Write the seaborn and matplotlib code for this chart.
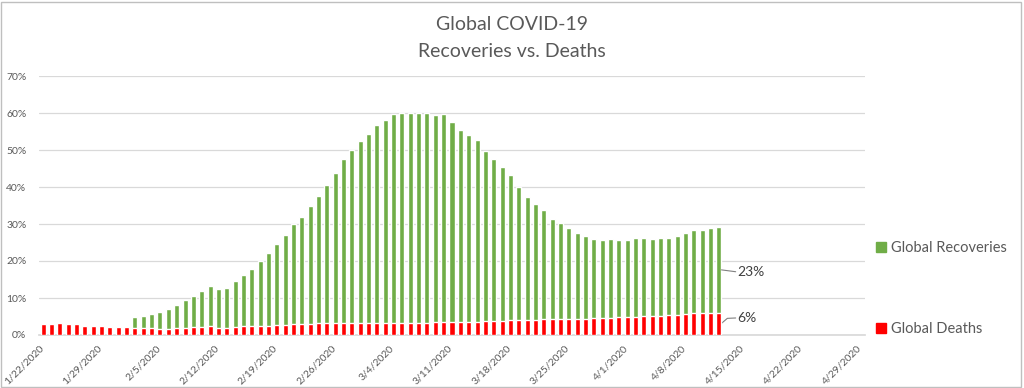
import matplotlib as mpl
mpl.use('Agg')

import numpy as np
import pandas as pd
import seaborn as sns
import matplotlib.pyplot as plt
from matplotlib.patches import Patch, Rectangle

# daily values, 1/22/2020 .. 4/12/2020 (percent)
deaths = [3.0, 3.0, 3.2, 2.9, 2.9, 2.3, 2.3, 2.3, 2.2, 2.2, 2.2,
          2.0, 2.0, 1.8, 1.7, 1.7, 1.9, 2.0, 2.1, 2.2, 2.3,
          2.0, 2.0, 2.2, 2.3, 2.3, 2.4, 2.5, 2.7, 2.8, 3.0,
          3.0, 3.1, 3.2, 3.2, 3.2, 3.2, 3.2, 3.2, 3.2, 3.2,
          3.2, 3.2, 3.2, 3.2, 3.3, 3.3, 3.4, 3.5, 3.5, 3.5,
          3.6, 3.6, 3.8, 3.8, 3.9, 4.0, 4.1, 4.1, 4.1, 4.2,
          4.2, 4.3, 4.3, 4.4, 4.4, 4.5, 4.5, 4.6, 4.8, 4.9,
          5.0, 5.2, 5.2, 5.2, 5.4, 5.5, 5.7, 5.9, 6.0, 6.0, 6.0]
recoveries = [0, 0, 0, 0, 0, 0, 0, 0, 0, 0, 0,
              3.0, 3.1, 4.0, 4.5, 5.3, 6.1, 7.4, 8.4, 9.6, 10.9,
              10.3, 10.7, 12.3, 13.9, 15.6, 17.5, 19.6, 21.8, 24.3, 27.0,
              29.0, 31.8, 34.5, 37.3, 40.5, 44.3, 46.8, 49.1, 51.2, 53.5,
              55.0, 56.5, 56.7, 56.7, 56.8, 56.8, 56.1, 56.1, 54.2, 52.0,
              50.4, 49.0, 46.0, 43.9, 41.5, 39.2, 35.9, 33.1, 31.2, 29.5,
              27.2, 26.0, 24.7, 23.3, 22.4, 21.5, 21.2, 21.3, 20.8, 20.9,
              21.1, 21.1, 20.7, 20.9, 20.9, 21.3, 22.0, 22.4, 22.3, 22.9, 23.2]
tick_labels = ['1/22/2020', '1/29/2020', '2/5/2020', '2/12/2020', '2/19/2020',
               '2/26/2020', '3/4/2020', '3/11/2020', '3/18/2020', '3/25/2020',
               '4/1/2020', '4/8/2020', '4/15/2020', '4/22/2020', '4/29/2020']
last_labels = ['23%', '6%']

green = '#70AD47'
red = '#FF0000'
grey = '#595959'

sns.set_theme(style='white')
plt.rcParams['font.family'] = ['Lato', 'DejaVu Sans']

df = pd.DataFrame({'day': np.arange(len(deaths)),
                   'deaths': deaths,
                   'recoveries': recoveries})
df['total'] = df['deaths'] + df['recoveries']

fig = plt.figure(figsize=(10.24, 3.88), dpi=100)
ax = fig.add_axes([39 / 1024, 1 - 335 / 388, (865 - 39) / 1024, (335 - 76) / 388])

sns.barplot(data=df, x='day', y='total', color=green, width=0.6,
            saturation=1, ax=ax, zorder=2)
sns.barplot(data=df, x='day', y='deaths', color=red, width=0.6,
            saturation=1, ax=ax, zorder=3)

ax.set_xlim(-0.5, 98.5)
ax.set_ylim(0, 70)
ax.set_xticks(np.arange(len(tick_labels)) * 7 - 0.5)
ax.set_xticklabels(tick_labels, rotation=45, ha='right', rotation_mode='anchor',
                   fontsize=7.5, color=grey)
ax.set_yticks(np.arange(0, 71, 10))
ax.set_yticklabels([f'{v}%' for v in range(0, 71, 10)], fontsize=7.5, color=grey)
ax.set_xlabel('')
ax.set_ylabel('')
ax.yaxis.grid(True, color='#D9D9D9', lw=0.9, zorder=0)
ax.set_axisbelow(True)
for s in ['top', 'right', 'left']:
    ax.spines[s].set_visible(False)
ax.spines['bottom'].set_color('#D9D9D9')
ax.tick_params(axis='x', length=4, color='#D9D9D9', pad=2)
ax.tick_params(axis='y', length=0, pad=9)

# labels at the last bar
n = len(deaths) - 1
ax.plot([n + 0.3, n + 2.0], [17.6, 17.1], color='#808080', lw=0.8)
ax.text(n + 2.2, 17.1, last_labels[0], fontsize=10, color='#404040', va='center')
ax.plot([n + 0.3, n + 1.0, n + 2.0], [3.15, 4.5, 4.6], color='#808080', lw=0.8)
ax.text(n + 2.2, 4.6, last_labels[1], fontsize=10, color='#404040', va='center')

fig.text(0.5, 1 - 30 / 388, 'Global COVID-19', ha='center', va='baseline',
         fontsize=14, color=grey)
fig.text(0.5, 1 - 56.7 / 388, 'Recoveries vs. Deaths', ha='center', va='baseline',
         fontsize=14, color=grey)

handles = [Patch(color=green), Patch(color=red)]
fig.legend(handles, ['Global Recoveries', 'Global Deaths'], loc='upper left',
           bbox_to_anchor=(863 / 1024, 1 - 228 / 388), frameon=False,
           fontsize=10.5, labelcolor=grey, handlelength=0.7, handleheight=0.7,
           handletextpad=0.35, labelspacing=4.6)

fig.patches.append(Rectangle((0.5 / 1024, 1 / 388), 1020 / 1024, 385 / 388,
                             transform=fig.transFigure, fill=False,
                             edgecolor='#BFBFBF', lw=1))

fig.savefig('out.png', dpi=100)
